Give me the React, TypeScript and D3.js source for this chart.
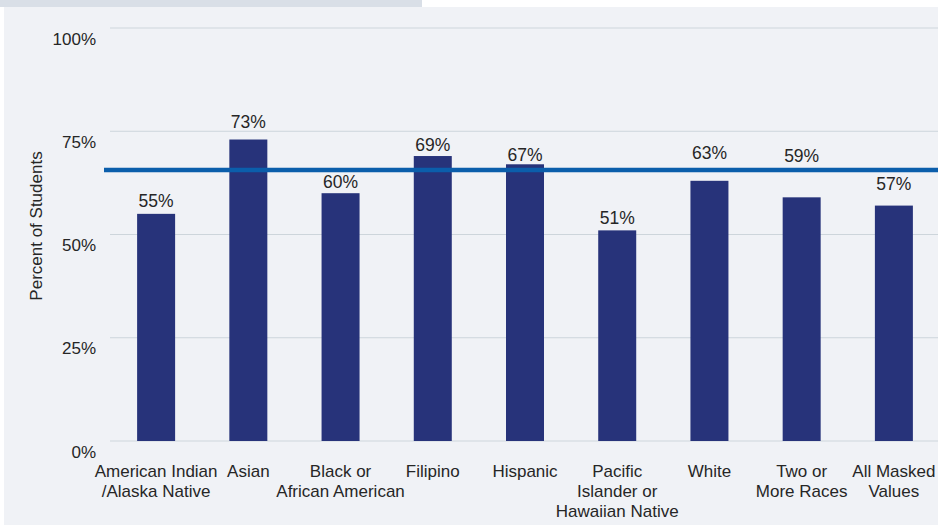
import React from "react";
import * as d3 from "d3";

const categories: string[][] = [
  ["American Indian", "/Alaska Native"],
  ["Asian"],
  ["Black or", "African American"],
  ["Filipino"],
  ["Hispanic"],
  ["Pacific", "Islander or", "Hawaiian Native"],
  ["White"],
  ["Two or", "More Races"],
  ["All Masked", "Values"],
];
const values: number[] = [55, 73, 60, 69, 67, 51, 63, 59, 57];
const referenceValue = 65.6;
const yTicks: number[] = [0, 25, 50, 75, 100];
const yTitle = "Percent of Students";

// layout: vertical gap between bar top and its value label (px)
const labelGap: number[] = [6.7, 11.7, 5.3, 5.3, 3, 6.7, 21.7, 35.7, 16];

const W = 938;
const H = 526;
const FONT = "'Liberation Sans', Arial, sans-serif";
const TEXT = "#262626";

export default function App() {
  const keys = categories.map((c) => c.join(" "));
  const x = d3
    .scaleBand<string>()
    .domain(keys)
    .range([110, 940])
    .paddingInner(0.588)
    .paddingOuter(0.294);
  const y = d3.scaleLinear().domain([0, 100]).range([441, 28]);

  return (
    <div style={{ position: "absolute", left: 0, top: 0 }}>
      <svg width={W} height={H} style={{ display: "block" }}>
        <rect x={0} y={0} width={W} height={H} fill="#ffffff" />
        <rect x={4} y={7} width={W - 4} height={H - 8} fill="#f0f2f6" />
        <rect x={0} y={0} width={422} height={7} fill="#d9dfe7" />
        {yTicks.map((t) => (
          <g key={t}>
            <line x1={110} x2={W} y1={y(t)} y2={y(t)} stroke="#cdd5db" strokeWidth={1.2} />
            <text
              x={96}
              y={y(t) + 16.5}
              textAnchor="end"
              fontFamily={FONT}
              fontSize={17}
              fill={TEXT}
            >
              {t}%
            </text>
          </g>
        ))}
        <text
          transform={`translate(42, 226) rotate(-90)`}
          textAnchor="middle"
          fontFamily={FONT}
          fontSize={17}
          fill={TEXT}
        >
          {yTitle}
        </text>
        {values.map((v, i) => {
          const k = keys[i];
          const bx = x(k)!;
          return (
            <g key={k}>
              <rect x={bx} y={y(v)} width={x.bandwidth()} height={y(0) - y(v)} fill="#27337a" />
            </g>
          );
        })}
        <line
          x1={104}
          x2={W}
          y1={y(referenceValue)}
          y2={y(referenceValue)}
          stroke="#0b5eab"
          strokeWidth={4.5}
        />
        {values.map((v, i) => {
          const k = keys[i];
          const bx = x(k)!;
          return (
            <text
              key={k}
              x={bx + x.bandwidth() / 2}
              y={y(v) - labelGap[i]}
              textAnchor="middle"
              fontFamily={FONT}
              fontSize={17.5}
              fill={TEXT}
            >
              {v}%
            </text>
          );
        })}
        {categories.map((lines, i) => {
          const k = keys[i];
          const cx = x(k)! + x.bandwidth() / 2;
          return (
            <text
              key={k}
              x={cx}
              y={477}
              textAnchor="middle"
              fontFamily={FONT}
              fontSize={17}
              fill={TEXT}
            >
              {lines.map((l, j) => (
                <tspan key={j} x={cx} y={477 + j * 20}>
                  {l}
                </tspan>
              ))}
            </text>
          );
        })}
      </svg>
    </div>
  );
}
